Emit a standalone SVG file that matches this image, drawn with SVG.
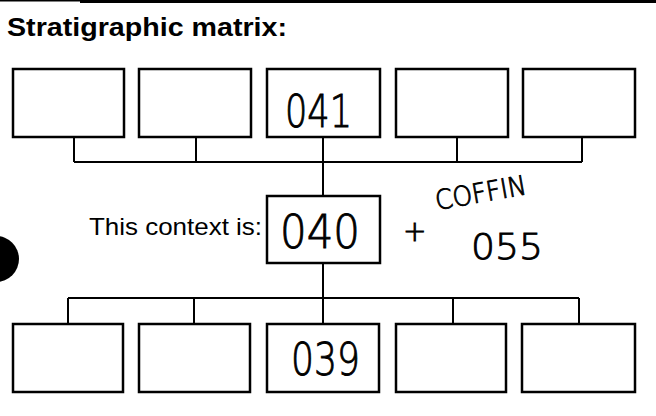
<svg xmlns="http://www.w3.org/2000/svg" width="656" height="416" viewBox="0 0 656 416">
<style>
.box{fill:#fff;stroke:#000;stroke-width:2.5}
.con{fill:none;stroke:#000;stroke-width:2}
.title{font-family:"Liberation Sans",Arial,sans-serif;font-weight:bold;font-size:25px;fill:#000}
.lbl{font-family:"Liberation Sans",Arial,sans-serif;font-size:24px;fill:#000}
.hand{font-family:"DejaVu Sans","Liberation Sans",sans-serif;font-weight:200;fill:#000;stroke:#000;stroke-width:0.9}
</style>
<rect x="0" y="0" width="656" height="416" fill="#fff"/>
<rect x="0" y="0" width="80" height="1.5" fill="#000"/>
<rect x="80" y="0" width="576" height="3" fill="#000"/>
<ellipse cx="-4" cy="259" rx="23" ry="23" fill="#000"/>
<text class="title" x="7" y="36" textLength="280" lengthAdjust="spacingAndGlyphs">Stratigraphic matrix:</text>

<g id="connectors">
  <path class="con" d="M74 137V162M196 137V162M323 137V196M457 137V162M582 137V162M74 162H582"/>
  <path class="con" d="M323 263V324M68 298H579M68 298V324M194 298V324M453 298V324M579 298V324"/>
</g>

<g id="top1"><rect class="box" x="13" y="69" width="111" height="68"/></g>
<g id="top2"><rect class="box" x="139" y="69" width="112" height="68"/></g>
<g id="top3"><rect class="box" x="267" y="69" width="113" height="68"/>
  <text class="hand" x="285" y="127" font-size="44" textLength="67" lengthAdjust="spacingAndGlyphs">041</text></g>
<g id="top4"><rect class="box" x="396" y="69" width="112" height="68"/></g>
<g id="top5"><rect class="box" x="523" y="69" width="112" height="68"/></g>

<g id="context">
  <text class="lbl" x="89" y="235" textLength="173" lengthAdjust="spacingAndGlyphs">This context is:</text>
  <rect class="box" x="267" y="196" width="113" height="67"/>
  <text class="hand" x="280" y="248" font-size="46" textLength="80" lengthAdjust="spacingAndGlyphs">040</text>
  <text class="hand" x="403" y="241" font-size="28">+</text>
  <text class="hand" x="437" y="210" font-size="27" textLength="92" lengthAdjust="spacingAndGlyphs" transform="rotate(-10 437 210)">COFFIN</text>
  <text class="hand" x="471" y="259" font-size="36" textLength="72" lengthAdjust="spacingAndGlyphs">055</text>
</g>

<g id="bot1"><rect class="box" x="13" y="324" width="110" height="68"/></g>
<g id="bot2"><rect class="box" x="139" y="324" width="111" height="68"/></g>
<g id="bot3"><rect class="box" x="267" y="324" width="112" height="68"/>
  <text class="hand" x="291" y="375" font-size="44" textLength="69" lengthAdjust="spacingAndGlyphs">039</text></g>
<g id="bot4"><rect class="box" x="396" y="324" width="110" height="68"/></g>
<g id="bot5"><rect class="box" x="522" y="324" width="113" height="68"/></g>
</svg>
